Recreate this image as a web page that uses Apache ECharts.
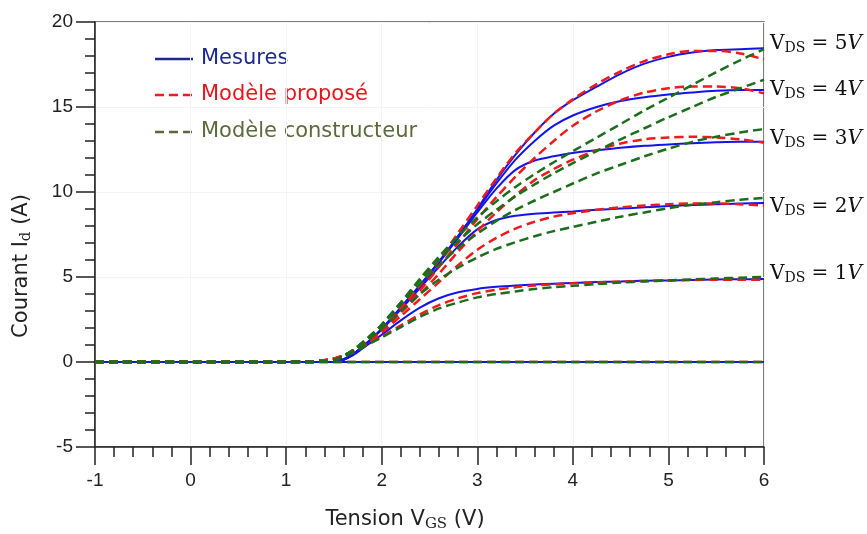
<!DOCTYPE html>
<html>
<head>
<meta charset="utf-8">
<script src="https://cdn.jsdelivr.net/npm/echarts@6/dist/echarts.min.js"></script>
<style>
  html, body { margin: 0; padding: 0; background: #fff; }
  #chart { width: 867px; height: 534px; }
</style>
</head>
<body>
<div id="chart"></div>
<script>
// tension V_GS (axe x), commun a toutes les courbes
const vgs = [-1, 0, 1, 1.2, 1.4, 1.5, 1.6, 1.7, 1.8, 1.9, 2.0, 2.2, 2.4, 2.6, 2.8,
  3.0, 3.2, 3.4, 3.6, 3.8, 4.0, 4.25, 4.5, 4.75, 5.0, 5.25, 5.5, 5.75, 6.0];

const vdsLabels = ['5', '4', '3', '2', '1'];

// Mesures
const mes5 = [0, 0, 0, 0, 0, 0, 0.15, 0.45, 0.9, 1.4, 1.95, 3.2, 4.5, 5.9, 7.4, 9.0, 10.7, 12.2, 13.5, 14.6, 15.4, 16.2, 16.95, 17.55, 17.95, 18.2, 18.35, 18.4, 18.45];
const mes4 = [0, 0, 0, 0, 0, 0, 0.15, 0.45, 0.9, 1.4, 1.95, 3.2, 4.5, 5.9, 7.4, 8.95, 10.5, 11.9, 13.0, 13.9, 14.5, 15.0, 15.35, 15.57, 15.73, 15.85, 15.95, 16.0, 16.0];
const mes3 = [0, 0, 0, 0, 0, 0, 0.15, 0.45, 0.9, 1.4, 1.95, 3.2, 4.5, 5.85, 7.3, 8.8, 10.2, 11.3, 11.85, 12.1, 12.3, 12.45, 12.6, 12.72, 12.8, 12.87, 12.92, 12.95, 12.95];
const mes2 = [0, 0, 0, 0, 0, 0, 0.15, 0.45, 0.9, 1.4, 1.9, 3.1, 4.35, 5.6, 6.8, 7.8, 8.35, 8.6, 8.72, 8.8, 8.86, 8.95, 9.03, 9.1, 9.17, 9.23, 9.28, 9.32, 9.35];
const mes1 = [0, 0, 0, 0, 0, 0, 0.12, 0.4, 0.8, 1.2, 1.6, 2.45, 3.2, 3.75, 4.1, 4.3, 4.42, 4.5, 4.56, 4.61, 4.65, 4.7, 4.74, 4.78, 4.8, 4.83, 4.85, 4.87, 4.88];
const mes0 = vgs.map(() => 0);

// Modele propose
const prop5 = [0, 0, 0, 0.02, 0.1, 0.2, 0.38, 0.65, 1.0, 1.45, 1.95, 3.15, 4.5, 6.0, 7.6, 9.2, 10.8, 12.3, 13.5, 14.6, 15.45, 16.35, 17.1, 17.7, 18.1, 18.3, 18.3, 18.15, 17.8];
const prop4 = [0, 0, 0, 0.02, 0.1, 0.2, 0.38, 0.65, 1.0, 1.4, 1.9, 3.0, 4.2, 5.6, 7.0, 8.4, 9.7, 10.9, 12.0, 13.0, 13.9, 14.75, 15.4, 15.85, 16.1, 16.2, 16.2, 16.1, 15.8];
const prop3 = [0, 0, 0, 0.02, 0.1, 0.2, 0.38, 0.65, 1.0, 1.4, 1.85, 2.9, 4.0, 5.2, 6.5, 7.7, 8.8, 9.8, 10.7, 11.35, 11.9, 12.45, 12.85, 13.1, 13.2, 13.25, 13.2, 13.1, 12.9];
const prop2 = [0, 0, 0, 0.02, 0.1, 0.2, 0.38, 0.65, 0.95, 1.35, 1.75, 2.7, 3.7, 4.7, 5.7, 6.6, 7.3, 7.85, 8.25, 8.55, 8.75, 8.95, 9.1, 9.2, 9.28, 9.33, 9.33, 9.28, 9.2];
const prop1 = [0, 0, 0, 0.02, 0.1, 0.2, 0.35, 0.6, 0.9, 1.2, 1.5, 2.15, 2.8, 3.35, 3.75, 4.05, 4.25, 4.4, 4.5, 4.57, 4.63, 4.68, 4.73, 4.77, 4.8, 4.82, 4.84, 4.84, 4.83];
const prop0 = vgs.map(() => 0);

// Modele constructeur
const cons5 = [0, 0, 0, 0, 0.02, 0.1, 0.35, 0.7, 1.15, 1.65, 2.2, 3.5, 4.9, 6.2, 7.4, 8.5, 9.45, 10.3, 11.05, 11.75, 12.4, 13.2, 14.0, 14.8, 15.55, 16.3, 17.05, 17.75, 18.4];
const cons4 = [0, 0, 0, 0, 0.02, 0.1, 0.35, 0.7, 1.15, 1.65, 2.2, 3.5, 4.8, 6.0, 7.1, 8.1, 8.95, 9.75, 10.45, 11.1, 11.7, 12.4, 13.1, 13.75, 14.4, 15.0, 15.6, 16.1, 16.6];
const cons3 = [0, 0, 0, 0, 0.02, 0.1, 0.35, 0.7, 1.15, 1.6, 2.15, 3.4, 4.6, 5.7, 6.7, 7.55, 8.3, 8.95, 9.5, 10.0, 10.5, 11.1, 11.6, 12.1, 12.55, 12.95, 13.25, 13.5, 13.7];
const cons2 = [0, 0, 0, 0, 0.02, 0.1, 0.33, 0.65, 1.05, 1.5, 1.95, 3.0, 4.0, 4.85, 5.55, 6.15, 6.65, 7.05, 7.4, 7.7, 7.95, 8.25, 8.55, 8.8, 9.05, 9.25, 9.4, 9.55, 9.65];
const cons1 = [0, 0, 0, 0, 0.02, 0.1, 0.3, 0.55, 0.85, 1.15, 1.45, 2.05, 2.65, 3.15, 3.5, 3.8, 4.0, 4.15, 4.3, 4.4, 4.48, 4.58, 4.67, 4.74, 4.8, 4.86, 4.91, 4.96, 5.0];
const cons0 = vgs.map(() => 0);

const BLUE = '#1414e8';
const RED = '#f01a1a';
const GREEN = '#1b6e1b';

const myChart = echarts.init(document.getElementById('chart'));

const pairs = ys => vgs.map((x, i) => [x, ys[i]]);

function curves(list, name, style, z) {
  return list.map(ys => ({
    name,
    type: 'line',
    data: pairs(ys),
    showSymbol: false,
    smooth: 0.3,
    z,
    lineStyle: style,
    emphasis: { disabled: true }
  }));
}

const series = [].concat(
  curves([mes0, mes1, mes2, mes3, mes4, mes5], 'Mesures', { color: BLUE, width: 2 }, 2),
  curves([prop0, prop1, prop2, prop3, prop4, prop5], 'Modèle proposé', { color: RED, width: 2.5, type: [9, 5] }, 3),
  curves([cons0, cons1, cons2, cons3, cons4, cons5], 'Modèle constructeur', { color: GREEN, width: 2.5, type: [9, 5] }, 4)
);

const axisCommon = {
  type: 'value',
  axisLine: { show: true, onZero: false, lineStyle: { color: '#222', width: 1.5 } },
  axisTick: { show: true, lineStyle: { color: '#222', width: 1.5 } },
  minorTick: { show: true, splitNumber: 5, length: 10, lineStyle: { color: '#222', width: 1.5 } },
  splitLine: { show: true, lineStyle: { color: '#f3f3f3', width: 1 } },
  axisLabel: { color: '#222', fontSize: 19, fontFamily: 'Liberation Sans' }
};

// etiquettes V_DS a droite
const vdsY = [49, 95, 144, 212, 279];
const vdsText = vdsLabels.map((v, i) => ({
  type: 'text',
  left: 770,
  top: vdsY[i] - 15,
  style: {
    text: '{v|V}{s|DS}{v| = ' + v + '}{i|V}',
    rich: {
      v: { fontFamily: 'DejaVu Serif', fontSize: 20, fill: '#111' },
      s: { fontFamily: 'DejaVu Serif', fontSize: 14, fill: '#111', padding: [8, 0, 0, 0] },
      i: { fontFamily: 'DejaVu Serif', fontSize: 20, fontStyle: 'italic', fill: '#111' }
    }
  }
}));

const legendRows = [
  { label: 'Mesures', color: '#1c2a90', line: '#1c2a90', dash: null, y: 59 },
  { label: 'Modèle proposé', color: '#e8141c', line: '#ee1c1c', dash: [9, 5], y: 95 },
  { label: 'Modèle constructeur', color: '#5a6a3a', line: '#5a6a3a', dash: [9, 5], y: 132 }
];
const legendGraphics = [];
legendRows.forEach(r => {
  legendGraphics.push({
    type: 'line',
    shape: { x1: 155, y1: r.y, x2: 193, y2: r.y },
    style: { stroke: r.line, lineWidth: 2.5, lineDash: r.dash }
  });
  legendGraphics.push({
    type: 'text',
    x: 201, y: r.y,
    style: { text: r.label, fill: r.color, font: '21px "DejaVu Sans"', textVerticalAlign: 'middle' }
  });
});

myChart.setOption({
  animation: false,
  backgroundColor: '#fff',
  grid: {
    left: 95, right: 103, top: 22, bottom: 87,
    show: true, borderColor: '#555', borderWidth: 1.5
  },
  xAxis: Object.assign({}, axisCommon, {
    min: -1, max: 6, interval: 1,
    axisTick: Object.assign({}, axisCommon.axisTick, { length: 18 }),
    axisLabel: Object.assign({}, axisCommon.axisLabel, { margin: 24 })
  }),
  yAxis: Object.assign({}, axisCommon, {
    min: -5, max: 20, interval: 5,
    axisTick: Object.assign({}, axisCommon.axisTick, { length: 19 }),
    axisLabel: Object.assign({}, axisCommon.axisLabel, { margin: 22 })
  }),
  series,
  graphic: legendGraphics.concat(vdsText, [
    {
      type: 'text',
      x: 405, y: 520,
      style: {
        text: '{a|Tension V}{s|GS}{a| (V)}',
        textAlign: 'center', textVerticalAlign: 'middle',
        rich: {
          a: { fontFamily: 'DejaVu Sans', fontSize: 21, fill: '#222' },
          s: { fontFamily: 'DejaVu Serif', fontSize: 15, fill: '#222', padding: [8, 0, 0, 0] }
        }
      }
    },
    {
      type: 'text',
      x: 22, y: 266,
      rotation: Math.PI / 2,
      style: {
        text: '{a|Courant I}{s|d}{a| (A)}',
        textAlign: 'center', textVerticalAlign: 'middle',
        rich: {
          a: { fontFamily: 'DejaVu Sans', fontSize: 21, fill: '#222' },
          s: { fontFamily: 'DejaVu Serif', fontSize: 15, fill: '#222', padding: [8, 0, 0, 0] }
        }
      }
    }
  ])
});

window.addEventListener('resize', () => { myChart.resize(); });
</script>
</body>
</html>
